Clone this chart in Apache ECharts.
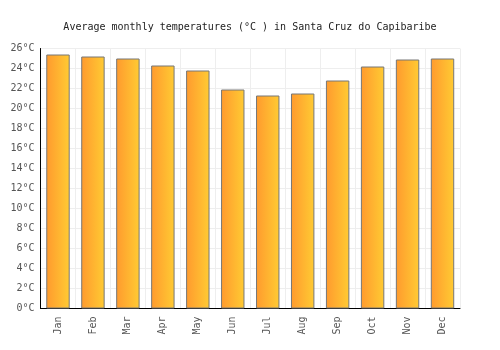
<!DOCTYPE html>
<html>
<head>
<meta charset="utf-8">
<script src="https://cdn.jsdelivr.net/npm/echarts@6/dist/echarts.min.js"></script>
<style>
  html, body { margin: 0; padding: 0; background: #fff; }
  #chart { width: 500px; height: 350px; }
</style>
</head>
<body>
<div id="chart"></div>
<script>
const months = ['Jan', 'Feb', 'Mar', 'Apr', 'May', 'Jun', 'Jul', 'Aug', 'Sep', 'Oct', 'Nov', 'Dec']
const temperatures = [25.4, 25.2, 25.0, 24.3, 23.8, 21.9, 21.3, 21.5, 22.8, 24.2, 24.9, 25.0]
const titleText = 'Average monthly temperatures (°C ) in Santa Cruz do Capibaribe'

const font = '"DejaVu Sans Mono", monospace'
const chart = echarts.init(document.getElementById('chart'))

chart.setOption({
  animation: false,
  title: {
    text: titleText,
    left: 'center',
    top: 17,
    textStyle: { fontFamily: font, fontSize: 10, fontWeight: 'normal', color: '#222' },
  },
  grid: { left: 40.5, right: 40, top: 48.5, bottom: 41.5, containLabel: false },
  xAxis: {
    type: 'category',
    data: months,
    axisLine: { lineStyle: { color: '#000', width: 1 } },
    axisTick: { show: false },
    axisLabel: { rotate: 90, fontFamily: font, fontSize: 10, color: '#555', margin: 8 },
    splitLine: { show: true, lineStyle: { color: '#eee' } },
  },
  yAxis: {
    type: 'value',
    min: 0,
    max: 26,
    interval: 2,
    axisLine: { show: true, lineStyle: { color: '#000', width: 1 } },
    axisTick: { show: false },
    axisLabel: { fontFamily: font, fontSize: 10, color: '#555', margin: 6, formatter: '{value}°C' },
    splitLine: { lineStyle: { color: '#eee' } },
  },
  series: [{
    type: 'bar',
    data: temperatures,
    barWidth: '67%',
    itemStyle: {
      color: new echarts.graphic.LinearGradient(0, 0, 1, 0, [
        { offset: 0, color: '#ff9a2e' },
        { offset: 1, color: '#ffcb33' },
      ]),
      borderColor: '#777',
      borderWidth: 1,
    },
  }],
})
</script>
</body>
</html>
